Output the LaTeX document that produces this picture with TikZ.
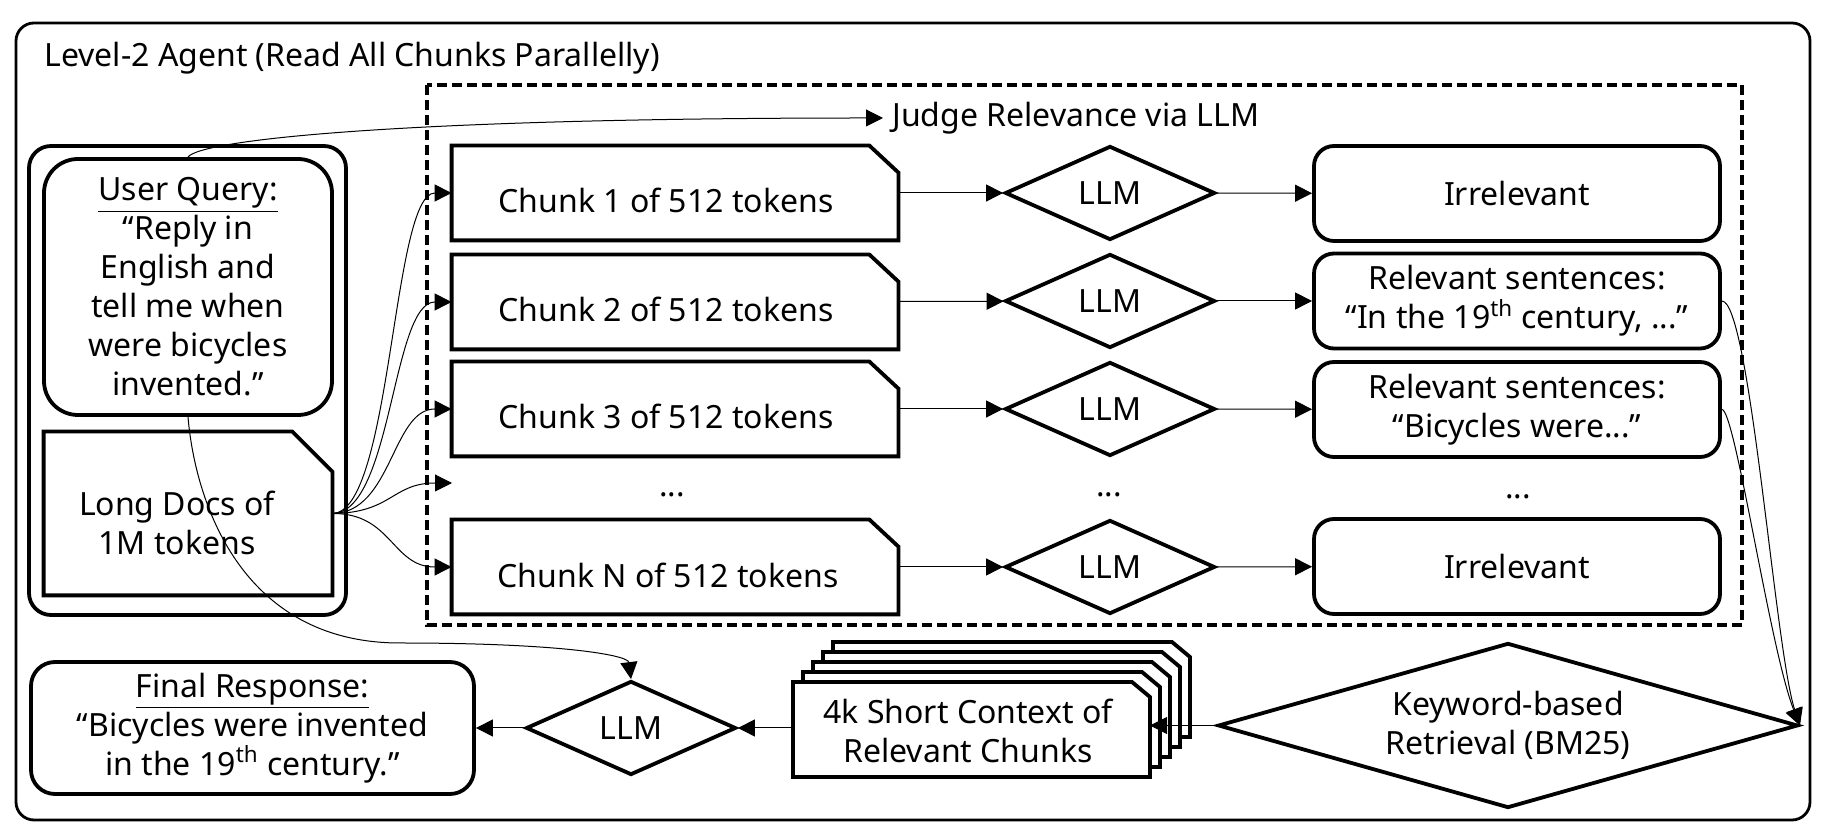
\documentclass[tikz,border=0pt]{standalone}
\usepackage{fontspec}
\setmainfont{Noto Sans}
\usetikzlibrary{shapes.geometric,arrows.meta}

\tikzset{
  txt/.style={inner sep=0pt},
  box/.style={draw, line width=1.9pt, rounded corners=10pt, align=center, inner sep=0pt},
  chunkbox/.style={inner sep=0pt, minimum width=223pt, minimum height=47pt},
  llm/.style={draw, diamond, line width=1.9pt, aspect=2.23, minimum width=105pt, minimum height=47pt, inner sep=0pt},
  link/.style={-{Triangle[length=8.5pt,width=8.5pt]}, line width=0.5pt},
}

\begin{document}
\begin{tikzpicture}[x=0.5pt, y=-0.5pt, font=\fontsize{16}{19.5}\selectfont]
\fill[white] (0,0) rectangle (1844,838);
\useasboundingbox (0,0) rectangle (1844,838);

\draw [line width=1.4pt, rounded corners=9pt] (16,23) rectangle (1810,820);
\node [txt, anchor=west] (title) at (44,58) {Level-2 Agent (Read All Chunks Parallelly)};

\draw [line width=1.6pt, dash pattern=on 5pt off 2.5pt] (427,85) rectangle (1742,625);
\node [txt, anchor=west] (judge) at (892,118) {Judge Relevance via LLM};
\coordinate (judgein) at (883,118);

% user query and long docs
\draw [line width=1.9pt, rounded corners=11pt] (29,146) rectangle (346,615);
\node [box, rounded corners=17pt, minimum width=144pt, minimum height=128pt] (uq) at (188,287) {\underline{User Query:}\\ “Reply in\\ English and\\ tell me when\\ were bicycles\\ invented.”};
\node [txt, minimum width=144pt, minimum height=81.5pt] (docs) at (188,513.5) {};
\draw [line width=1.9pt] (docs.south west) -- (docs.north west) -- ([xshift=-20pt]docs.north east) -- ([yshift=-20pt]docs.north east) -- (docs.south east) -- cycle;
\node [txt, align=center] (docst) at (177,523) {Long Docs of\\1M tokens};

% chunks
\node [chunkbox] (c1) at (675,193) {};
\node [chunkbox] (c2) at (675,302) {};
\node [chunkbox] (c3) at (675,409) {};
\node [chunkbox] (c4) at (675,567) {};
\draw [line width=1.9pt] (c1.south west) -- (c1.north west) -- ([xshift=-14.5pt]c1.north east) -- ([yshift=-13.5pt]c1.north east) -- (c1.south east) -- cycle;
\draw [line width=1.9pt] (c2.south west) -- (c2.north west) -- ([xshift=-14.5pt]c2.north east) -- ([yshift=-13.5pt]c2.north east) -- (c2.south east) -- cycle;
\draw [line width=1.9pt] (c3.south west) -- (c3.north west) -- ([xshift=-14.5pt]c3.north east) -- ([yshift=-13.5pt]c3.north east) -- (c3.south east) -- cycle;
\draw [line width=1.9pt] (c4.south west) -- (c4.north west) -- ([xshift=-14.5pt]c4.north east) -- ([yshift=-13.5pt]c4.north east) -- (c4.south east) -- cycle;
\node [txt] (t1) at (666,200) {Chunk 1 of 512 tokens};
\node [txt] (t2) at (666,309) {Chunk 2 of 512 tokens};
\node [txt] (t3) at (666,416) {Chunk 3 of 512 tokens};
\node [txt] (t4) at (668,575) {Chunk N of 512 tokens};

\node [llm] (l1) at (1110,193) {LLM};
\node [llm] (l2) at (1110,301) {LLM};
\node [llm] (l3) at (1110,409) {LLM};
\node [llm] (l4) at (1110,567) {LLM};

\node [box, minimum width=203pt, minimum height=47.5pt] (r1) at (1517,193.5) {Irrelevant};
\node [box, minimum width=203pt, minimum height=47.5pt] (r2) at (1517,301) {Relevant sentences:\\ “In the 19\textsuperscript{th} century, ...”};
\node [box, minimum width=203pt, minimum height=47.5pt] (r3) at (1517,409.5) {Relevant sentences:\\ “Bicycles were...”};
\node [box, minimum width=203pt, minimum height=47.5pt] (r4) at (1517,566.5) {Irrelevant};

\node [txt, anchor=base] (d1) at (672,497) {...};
\node [txt, anchor=base] (d2) at (1109,497) {...};
\node [txt, anchor=base] (d3) at (1518,499) {...};
\coordinate (din) at (452,483);

% bottom row
\node [llm] (lf) at (631,728) {LLM};
\node [box, rounded corners=12pt, minimum width=221.5pt, minimum height=66pt] (fin) at (252.5,728) {\underline{Final Response:}\\ “Bicycles were invented\\ in the 19\textsuperscript{th} century.”};

\draw [line width=1.9pt, fill=white] (833,737) -- (833,642) -- (1172,642) -- (1190,657) -- (1190,737) -- cycle;
\draw [line width=1.9pt, fill=white] (823,747) -- (823,652) -- (1162,652) -- (1180,667) -- (1180,747) -- cycle;
\draw [line width=1.9pt, fill=white] (813,757) -- (813,662) -- (1152,662) -- (1170,677) -- (1170,757) -- cycle;
\draw [line width=1.9pt, fill=white] (803,767) -- (803,672) -- (1142,672) -- (1160,687) -- (1160,767) -- cycle;
\draw [line width=1.9pt, fill=white] (793,777) -- (793,682) -- (1132,682) -- (1150,697) -- (1150,777) -- cycle;
\node [txt, minimum width=178.5pt, minimum height=47.5pt, align=center] (st) at (968,731) {4k Short Context of\\Relevant Chunks};

\node [draw, diamond, line width=1.9pt, aspect=3.5, minimum width=290pt, minimum height=82.5pt, inner sep=0pt, align=center] (kw) at (1508,725.5) {Keyword-based\\Retrieval (BM25)};

% connectors
\draw [link] (uq.north) .. controls (200,140) and (400,118) .. (judgein);
\draw [link] (docs.east) .. controls (392,513) and (392,193) .. (c1.west);
\draw [link] (docs.east) .. controls (392,513) and (392,302) .. (c2.west);
\draw [link] (docs.east) .. controls (392,513) and (392,409) .. (c3.west);
\draw [link] (docs.east) .. controls (392,513) and (392,483) .. (din);
\draw [link] (docs.east) .. controls (392,513) and (392,567) .. (c4.west);

\draw [link] (c1) -- (l1);
\draw [link] (c2) -- (l2);
\draw [link] (c3) -- (l3);
\draw [link] (c4) -- (l4);
\draw [link] (l1) -- (r1);
\draw [link] (l2) -- (r2);
\draw [link] (l3) -- (r3);
\draw [link] (l4) -- (r4);

\draw [link] (r2.east) .. controls (1750,301) and (1775,650) .. (kw.east);
\draw [link] (r3.east) .. controls (1735,409) and (1770,650) .. (kw.east);
\draw [link] (kw.west) -- (kw.west -| 1150,0);
\draw [link] (lf.east -| 793,0) -- (lf.east);
\draw [link] (lf.west) -- (fin.east);
\draw [link] (uq.south) .. controls (195,500) and (240,643) .. (400,643) .. controls (560,643) and (628,655) .. (lf.north);

\end{tikzpicture}
\end{document}
